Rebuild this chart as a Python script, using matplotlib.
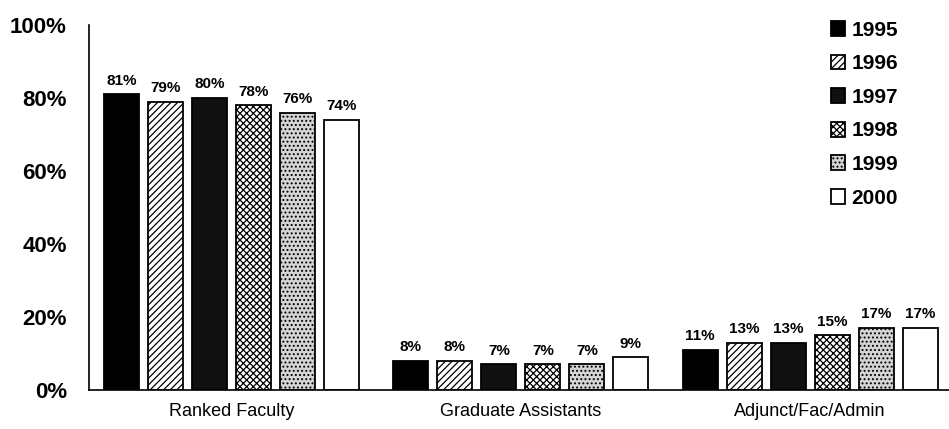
import numpy as np
import matplotlib
matplotlib.use("Agg")
import matplotlib.pyplot as plt

# shares by staff category, one series per year (percent)
categories = ["Ranked Faculty", "Graduate Assistants", "Adjunct/Fac/Admin"]
years = ["1995", "1996", "1997", "1998", "1999", "2000"]
share_1995 = [81, 8, 11]
share_1996 = [79, 8, 13]
share_1997 = [80, 7, 13]
share_1998 = [78, 7, 15]
share_1999 = [76, 7, 17]
share_2000 = [74, 9, 17]
series = [share_1995, share_1996, share_1997, share_1998, share_1999, share_2000]

# fill style per year: (facecolor, hatch)
styles = [
    ("black", None),
    ("white", "/////"),
    ("#101010", None),
    ("white", "xxxxx"),
    ("#d4d4d4", "...."),
    ("white", None),
]

plt.rcParams["font.family"] = ["Liberation Sans", "DejaVu Sans"]
plt.rcParams["hatch.linewidth"] = 0.9

fig = plt.figure(figsize=(9.49, 4.29), dpi=100)
ax = fig.add_axes([89 / 949, 39 / 429, 1 - 89 / 949, 365 / 429])

x = np.arange(len(categories))
step = 0.152
width = 0.121
for i, (year, vals) in enumerate(zip(years, series)):
    face, hatch = styles[i]
    pos = x + (i - 2.5) * step
    bars = ax.bar(pos, vals, width, color=face, edgecolor="black",
                  hatch=hatch, linewidth=1.3, label=year)
    for b, v in zip(bars, vals):
        ax.text(b.get_x() + b.get_width() / 2, v + 1.8, f"{v}%",
                ha="center", va="bottom", fontsize=11, fontweight="bold")

ax.set_xlim(-0.493, 2.48)
ax.set_ylim(0, 100)
ax.set_yticks(range(0, 101, 20))
ax.set_yticklabels([f"{t}%" for t in range(0, 101, 20)], fontsize=16,
                   fontweight="bold")
ax.set_xticks(x)
ax.set_xticklabels(categories, fontsize=13)
ax.tick_params(axis="y", length=0, pad=16)
ax.tick_params(axis="x", length=0, pad=9)

for side in ("top", "right"):
    ax.spines[side].set_visible(False)
ax.spines["left"].set_linewidth(1.2)
ax.spines["bottom"].set_linewidth(1.2)

ax.legend(loc="upper left", bbox_to_anchor=(812 / 949, 1 - 2 / 429),
          bbox_transform=fig.transFigure, frameon=False,
          prop={"size": 15, "weight": "bold"}, handlelength=0.7,
          handleheight=0.7, handletextpad=0.3, labelspacing=0.7)

fig.savefig("out.png", dpi=100)
